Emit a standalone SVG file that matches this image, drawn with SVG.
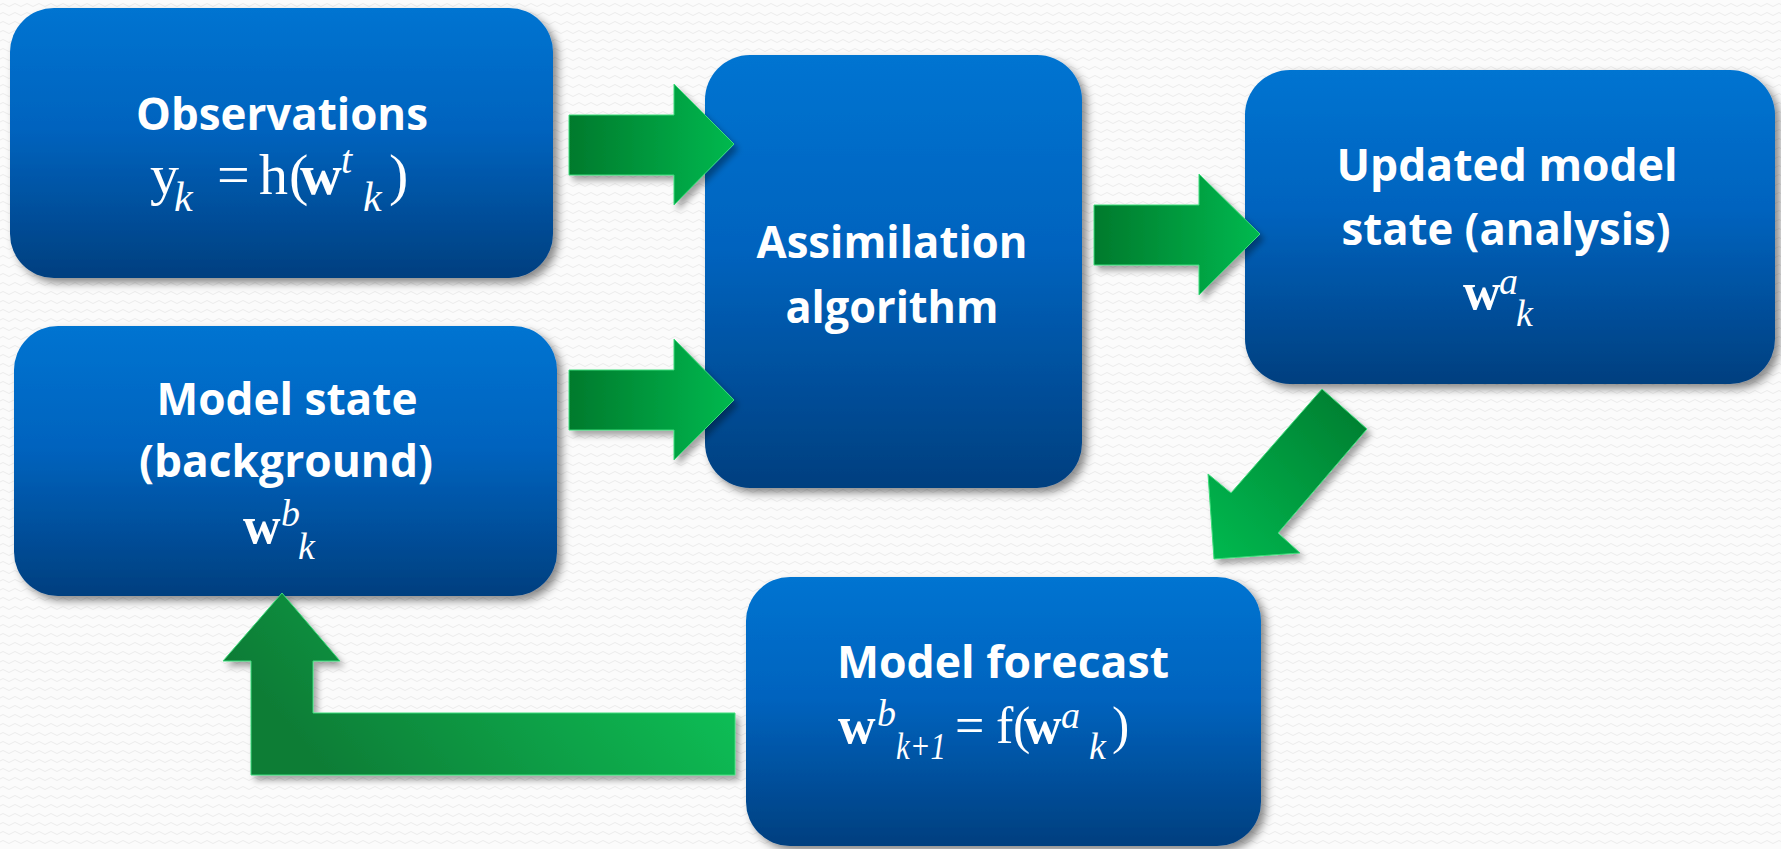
<svg xmlns="http://www.w3.org/2000/svg" width="1781" height="849" viewBox="0 0 1781 849">
<defs>
<pattern id="bgp" width="12" height="9" patternUnits="userSpaceOnUse">
<rect width="12" height="9" fill="#fbfbfb"/>
<path d="M0,5 Q3,2 6,5 T12,5" fill="none" stroke="#ececec" stroke-width="1"/>
</pattern>
<linearGradient id="boxg" x1="0" y1="0" x2="0" y2="1">
<stop offset="0" stop-color="#0074d1"/>
<stop offset="0.45" stop-color="#0063be"/>
<stop offset="1" stop-color="#003f7f"/>
</linearGradient>
<linearGradient id="arrH" x1="0" y1="0" x2="1" y2="0">
<stop offset="0" stop-color="#007a2c"/>
<stop offset="1" stop-color="#00b94f"/>
</linearGradient>
<linearGradient id="arrD" x1="1" y1="0" x2="0" y2="1">
<stop offset="0" stop-color="#007a2e"/>
<stop offset="1" stop-color="#00ba50"/>
</linearGradient>
<linearGradient id="arrL" x1="0" y1="0.3" x2="1" y2="0">
<stop offset="0" stop-color="#0a7d36"/>
<stop offset="1" stop-color="#10cc5c"/>
</linearGradient>
<filter id="sh" x="-10%" y="-10%" width="125%" height="125%">
<feDropShadow dx="5" dy="5" stdDeviation="4" flood-color="#000" flood-opacity="0.45"/>
</filter>
<filter id="ash" x="-10%" y="-10%" width="125%" height="125%">
<feDropShadow dx="4" dy="5" stdDeviation="3" flood-color="#000" flood-opacity="0.35"/>
</filter>
</defs>
<style>
.box{fill:url(#boxg);filter:url(#sh)}
.t{font-family:"Open Sans",Lato,"Liberation Sans",sans-serif;font-weight:bold;font-size:45px;fill:#fff;text-anchor:middle}
.m{font-family:"Liberation Serif","DejaVu Serif",serif;fill:#fff}
.b{font-weight:bold}
.i{font-style:italic}
.arr{stroke:#3ddc7a;stroke-width:1;filter:url(#ash)}
</style>
<rect width="1781" height="849" fill="url(#bgp)"/>

<g id="observations">
<rect class="box" x="10" y="8" width="543" height="270" rx="44"/>
<text class="t" x="282" y="130" textLength="292" lengthAdjust="spacingAndGlyphs">Observations</text>
<text class="m" font-size="58"><tspan x="150" y="194">y</tspan><tspan class="i" font-size="42" x="174" y="211">k</tspan><tspan x="217" y="194">=</tspan><tspan x="259" y="194">h</tspan><tspan x="289" y="194">(</tspan><tspan class="b" x="300" y="194">w</tspan><tspan class="i" font-size="40" x="341" y="173">t</tspan><tspan class="i" font-size="42" x="363" y="211">k</tspan><tspan x="389" y="194">)</tspan></text>
</g>

<g id="model-state">
<rect class="box" x="14" y="326" width="543" height="270" rx="44"/>
<text class="t" x="287" y="415" textLength="261" lengthAdjust="spacingAndGlyphs">Model state</text>
<text class="t" x="286" y="477" textLength="294" lengthAdjust="spacingAndGlyphs">(background)</text>
<text class="m" font-size="52"><tspan class="b" x="243" y="543">w</tspan><tspan class="i" font-size="38" x="281" y="526">b</tspan><tspan class="i" font-size="38" x="298" y="559">k</tspan></text>
</g>

<g id="assimilation">
<rect class="box" x="705" y="55" width="377" height="433" rx="45"/>
<text class="t" x="892" y="258" textLength="271" lengthAdjust="spacingAndGlyphs">Assimilation</text>
<text class="t" x="892" y="323" textLength="213" lengthAdjust="spacingAndGlyphs">algorithm</text>
</g>

<g id="updated">
<rect class="box" x="1245" y="70" width="530" height="314" rx="45"/>
<text class="t" x="1507" y="181" textLength="341" lengthAdjust="spacingAndGlyphs">Updated model</text>
<text class="t" x="1506" y="245" textLength="329" lengthAdjust="spacingAndGlyphs">state (analysis)</text>
<text class="m" font-size="52"><tspan class="b" x="1463" y="309">w</tspan><tspan class="i" font-size="38" x="1499" y="294">a</tspan><tspan class="i" font-size="38" x="1516" y="326">k</tspan></text>
</g>

<g id="forecast">
<rect class="box" x="746" y="577" width="515" height="269" rx="44"/>
<text class="t" x="1003" y="678" textLength="332" lengthAdjust="spacingAndGlyphs">Model forecast</text>
<text class="m" font-size="52"><tspan class="b" x="838" y="743">w</tspan><tspan class="i" font-size="38" x="877" y="726">b</tspan><tspan class="i" font-size="38" x="896" y="759" textLength="50" lengthAdjust="spacingAndGlyphs">k+1</tspan><tspan x="955" y="743">=</tspan><tspan x="996" y="743">f</tspan><tspan x="1013" y="743">(</tspan><tspan class="b" x="1024" y="743">w</tspan><tspan class="i" font-size="38" x="1061" y="728">a</tspan><tspan class="i" font-size="38" x="1089" y="759">k</tspan><tspan x="1112" y="743">)</tspan></text>
</g>

<g id="connectors">
<path class="arr" fill="url(#arrH)" d="M569,115 L674,115 L674,84 L734,144 L674,205 L674,175 L569,175 Z"/>
<path class="arr" fill="url(#arrH)" d="M569,370 L674,370 L674,339 L734,400 L674,460 L674,430 L569,430 Z"/>
<path class="arr" fill="url(#arrH)" d="M1094,205 L1199,205 L1199,174 L1260,234 L1199,295 L1199,265 L1094,265 Z"/>
<path class="arr" fill="url(#arrD)" d="M1322,389 L1367,429 L1278,533 L1300,553 L1214,559 L1208,474 L1231,493 Z"/>
<path class="arr" fill="url(#arrL)" d="M282,593 L340,661 L313,661 L313,713 L735,713 L735,775 L251,775 L251,661 L223,661 Z"/>
</g>
</svg>
